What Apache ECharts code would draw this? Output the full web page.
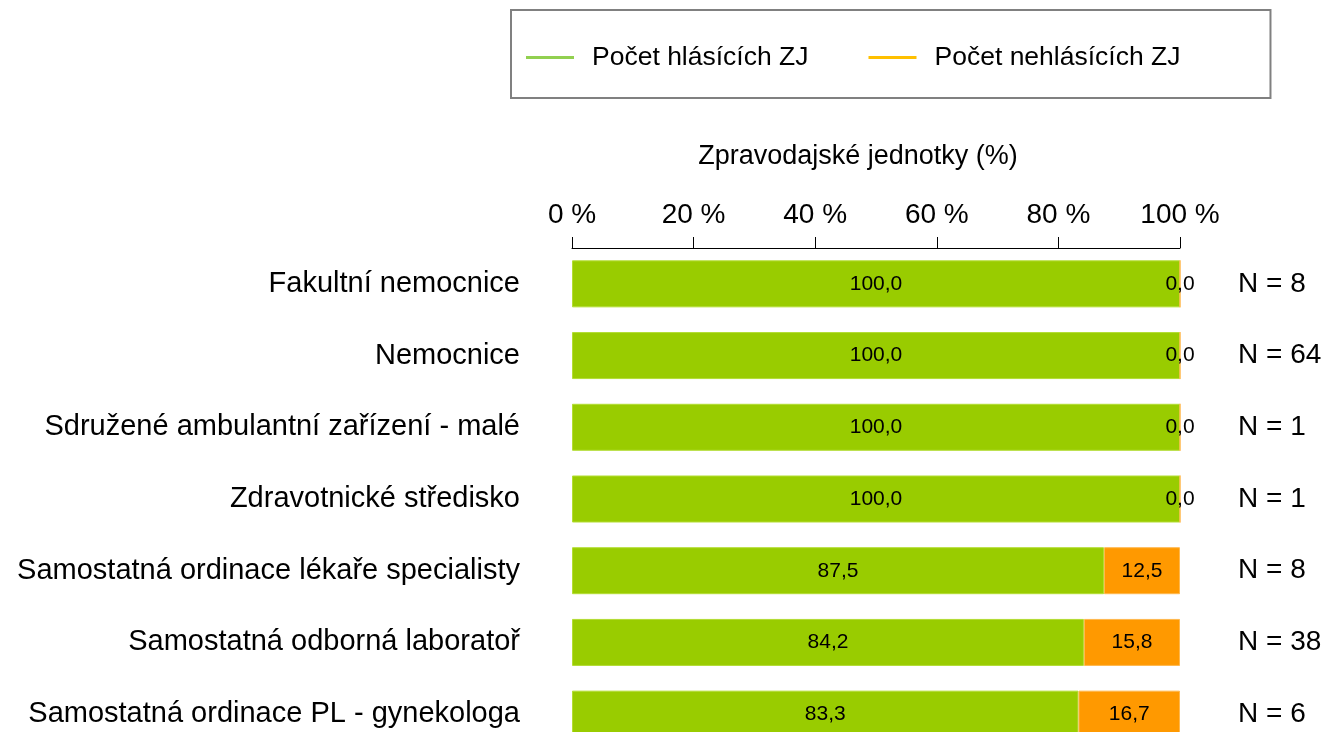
<!DOCTYPE html>
<html>
<head>
<meta charset="utf-8">
<script src="https://cdn.jsdelivr.net/npm/echarts@6/dist/echarts.min.js"></script>
<style>
  html, body { margin: 0; padding: 0; background: #fff; }
  #chart { width: 1329px; height: 732px; }
</style>
</head>
<body>
<div id="chart"></div>
<script>
// kategorie zpravodajských jednotek
const categories = [
  'Fakultní nemocnice',
  'Nemocnice',
  'Sdružené ambulantní zařízení - malé',
  'Zdravotnické středisko',
  'Samostatná ordinace lékaře specialisty',
  'Samostatná odborná laboratoř',
  'Samostatná ordinace PL - gynekologa'
];
const reporting = [100.0, 100.0, 100.0, 100.0, 87.5, 84.2, 83.3];
const notReporting = [0.0, 0.0, 0.0, 0.0, 12.5, 15.8, 16.7];
const nCounts = [8, 64, 1, 1, 8, 38, 6];
const xTicks = [0, 20, 40, 60, 80, 100];

const font = 'Liberation Sans, Arial, sans-serif';
const fmt = p => p.value.toFixed(1).replace('.', ',');

const chart = echarts.init(document.getElementById('chart'));
const option = {
  animation: false,
  textStyle: { fontFamily: font, color: '#000' },
  legend: {
    left: 511,
    top: 10,
    padding: [34, 90, 27, 15],
    borderColor: '#808080',
    borderWidth: 2,
    icon: 'rect',
    itemWidth: 48,
    itemHeight: 3,
    itemGap: 60,
    textStyle: { fontSize: 26.5, color: '#000', fontFamily: font, padding: [0, 0, 0, 13] },
    data: [
      { name: 'Počet hlásících ZJ', itemStyle: { color: '#92d050', borderWidth: 0 } },
      { name: 'Počet nehlásících ZJ', itemStyle: { color: '#ffc000', borderWidth: 0 } }
    ]
  },
  grid: {
    left: 572, right: 149, top: 248, height: 502,
    containLabel: false,
    outerBoundsMode: 'none'
  },
  xAxis: {
    type: 'value',
    position: 'top',
    min: xTicks[0],
    max: xTicks[xTicks.length - 1],
    interval: 20,
    name: 'Zpravodajské jednotky (%)',
    nameLocation: 'middle',
    nameGap: 78,
    nameTextStyle: { fontSize: 27, color: '#000', fontFamily: font, padding: [0, 36, 0, 0] },
    axisLine: { show: true, lineStyle: { color: '#000', width: 1 } },
    axisTick: { show: true, length: 11, lineStyle: { color: '#000' } },
    axisLabel: { fontSize: 28, color: '#000', margin: 19, formatter: '{value} %' },
    splitLine: { show: false }
  },
  yAxis: [
    {
      type: 'category',
      inverse: true,
      data: categories,
      axisLine: { show: false },
      axisTick: { show: false },
      axisLabel: { fontSize: 29, color: '#000', margin: 52 }
    },
    {
      type: 'category',
      inverse: true,
      position: 'right',
      data: nCounts.map(n => 'N = ' + n),
      axisLine: { show: false },
      axisTick: { show: false },
      axisLabel: { fontSize: 28, color: '#000', margin: 58, align: 'left' }
    }
  ],
  series: [
    {
      name: 'Počet hlásících ZJ',
      type: 'bar',
      stack: 'zj',
      barWidth: 47,
      data: reporting,
      itemStyle: { color: '#99cc00', borderColor: '#b3dd33', borderWidth: 1 },
      label: { show: true, position: 'inside', fontSize: 21, color: '#000', formatter: fmt }
    },
    {
      name: 'Počet nehlásících ZJ',
      type: 'bar',
      stack: 'zj',
      barWidth: 47,
      data: notReporting,
      itemStyle: { color: '#ff9900', borderColor: '#ffb84d', borderWidth: 1 },
      label: { show: true, position: 'inside', fontSize: 21, color: '#000', formatter: fmt }
    }
  ]
};
chart.setOption(option);
</script>
</body>
</html>
